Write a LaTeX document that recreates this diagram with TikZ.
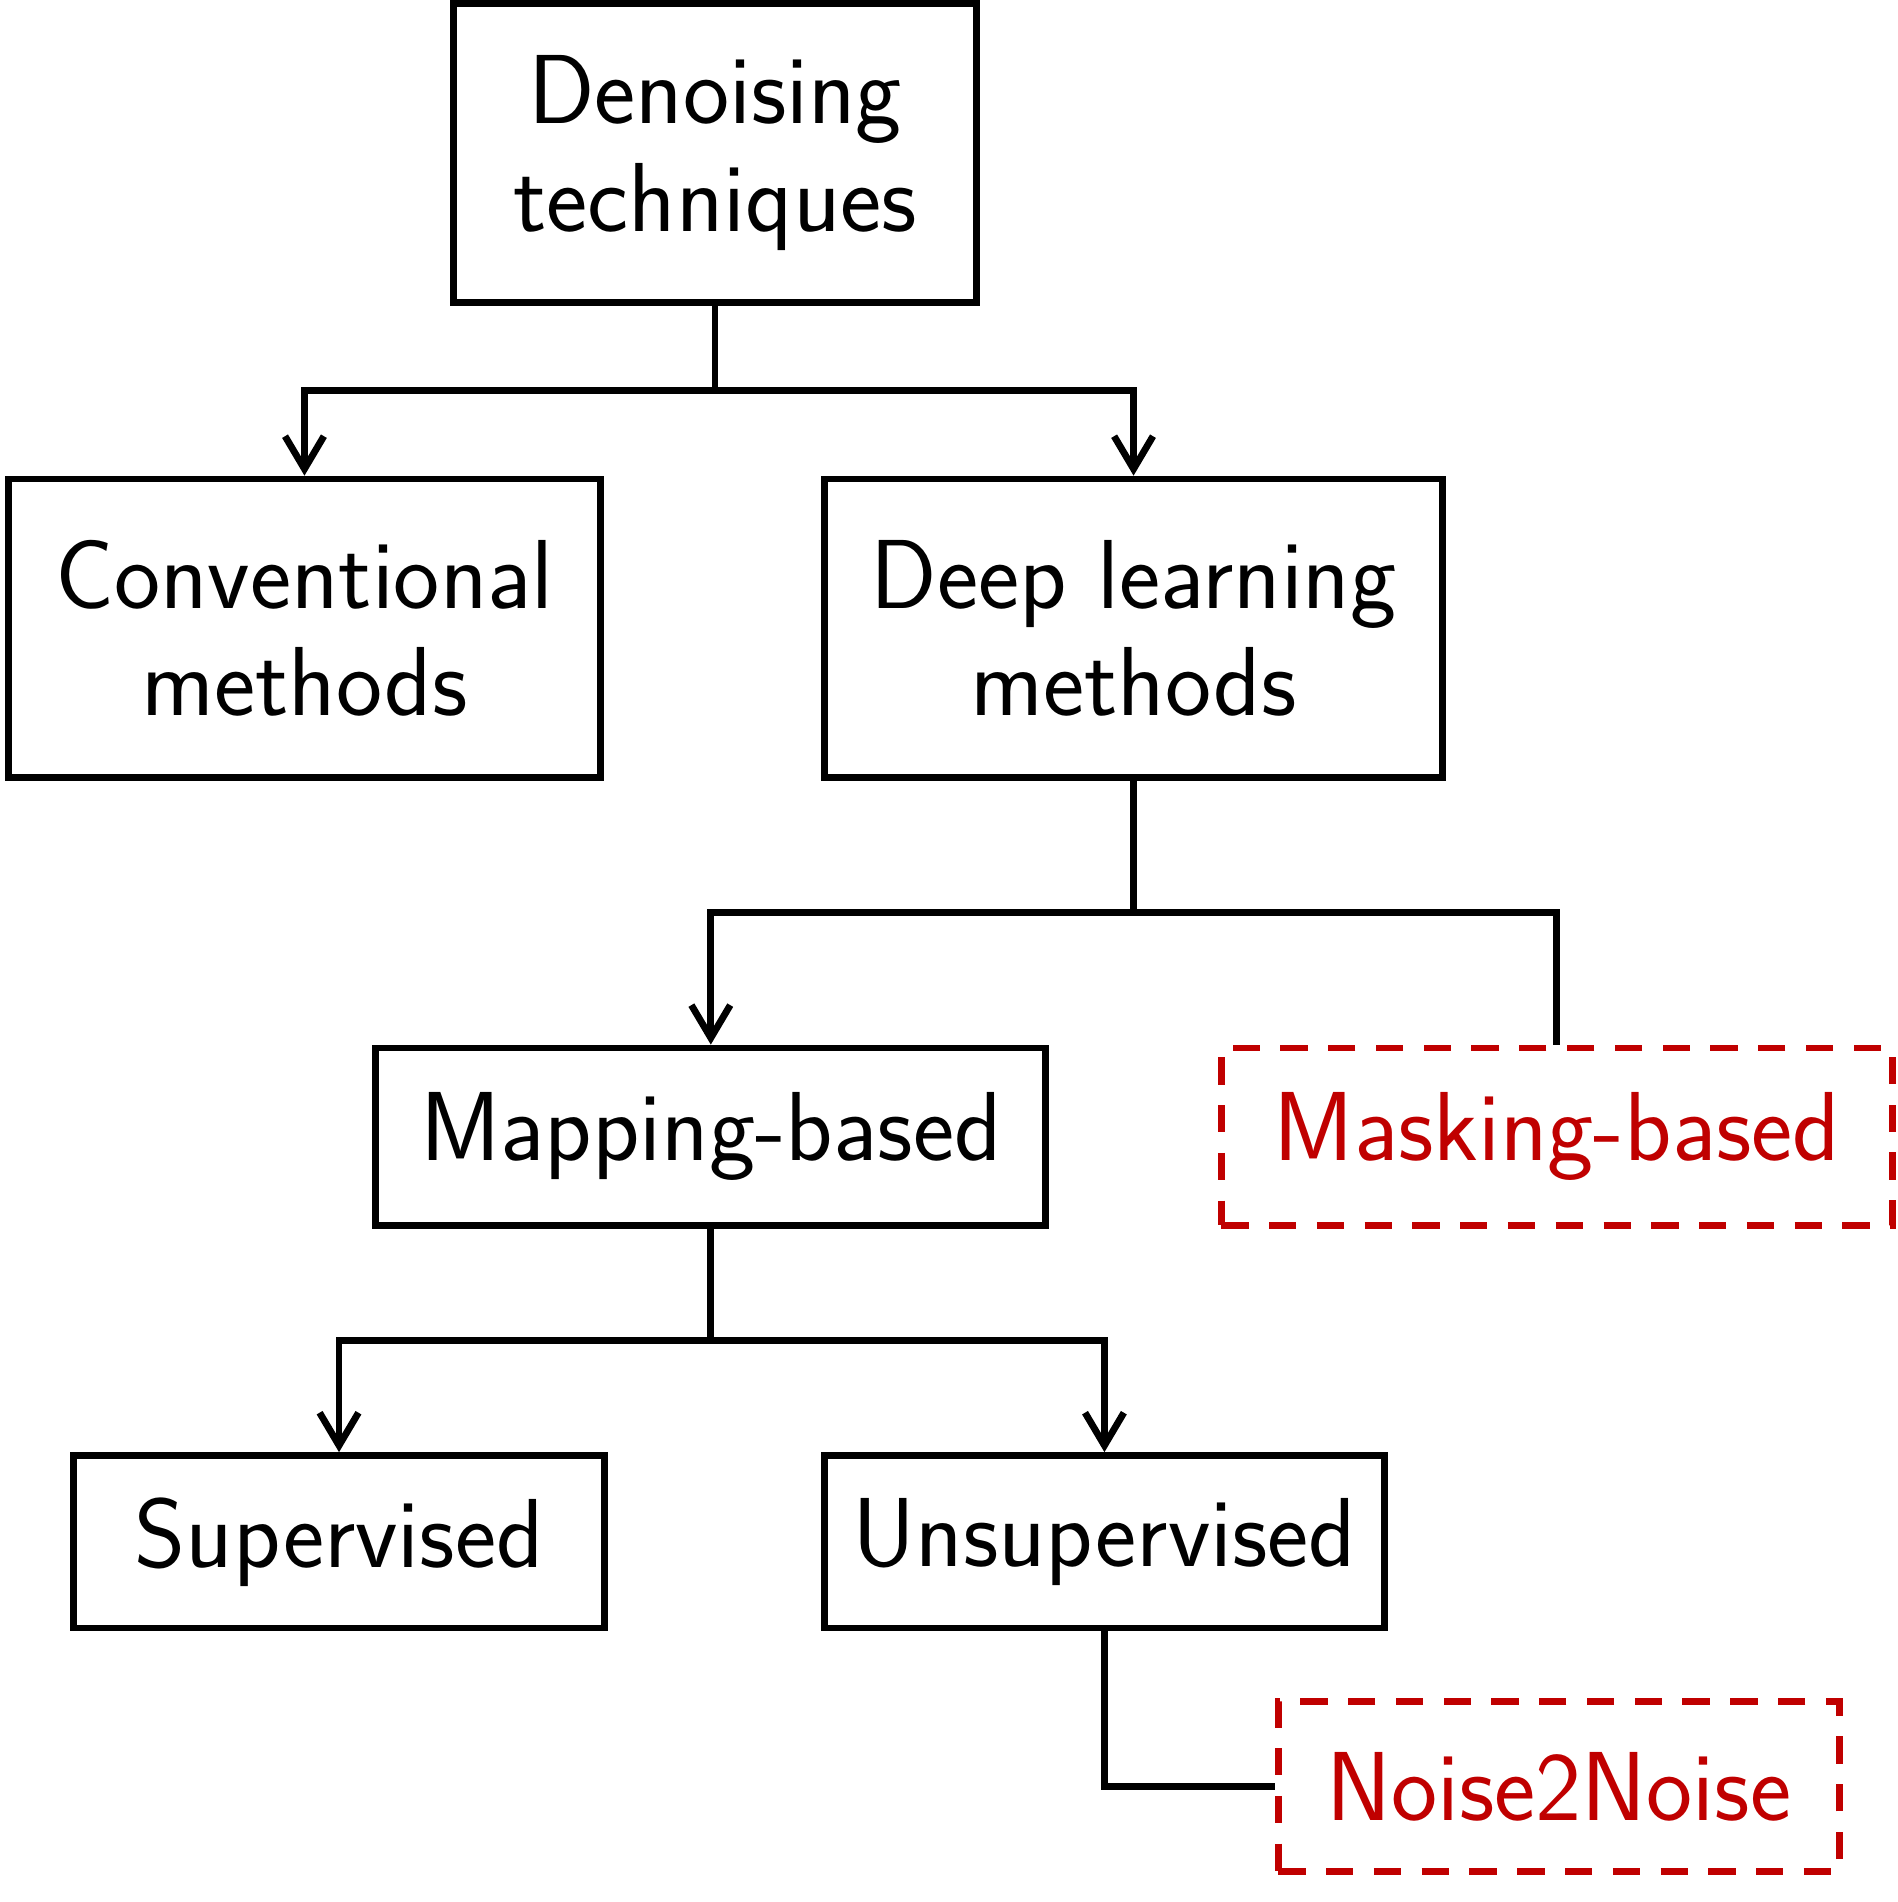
\documentclass[tikz,border=0pt]{standalone}
\usepackage{fontspec}
\usetikzlibrary{arrows.meta}
\definecolor{maskred}{RGB}{192,0,0}
\tikzset{%
  every block/.style={
    rectangle,
    draw,
    line width=1.6pt,
    align=center,
    inner sep=0pt,
    font=\sffamily\fontsize{23}{25.2}\selectfont
  },
  block new/.style={
    draw=maskred,
    text=maskred,
    dash pattern=on 6.4pt off 4.8pt
  }
 }

\begin{document}
\begin{tikzpicture}[x=0.01cm, y=-0.01cm, line width=1.6pt, >={Straight Barb[length=2.7mm,width=3.2mm]}]

\useasboundingbox (0,0) rectangle (1564,1568);

\node [every block, minimum width=4.31cm, minimum height=2.46cm] (denoising) at (589.5,126) {Denoising\\techniques};

\node [every block, minimum width=4.88cm, minimum height=2.46cm] (conventional) at (251,518) {Conventional\\methods};
\node [every block, minimum width=5.09cm, minimum height=2.46cm] (deep) at (934.5,518) {Deep learning\\methods};

\node [every block, minimum width=5.52cm, minimum height=1.46cm] (mapping) at (586,937) {Mapping-based};
\node [every block, block new, minimum width=5.53cm, minimum height=1.46cm] (masking) at (1283.5,937) {Masking-based};

\node [every block, minimum width=4.37cm, minimum height=1.42cm] (supervised) at (279.5,1271) {Supervised};
\node [every block, minimum width=4.61cm, minimum height=1.42cm] (unsupervised) at (910.5,1271) {Unsupervised};

\node [every block, block new, minimum width=4.62cm, minimum height=1.40cm] (noise2noise) at (1285,1473) {Noise2Noise};

% branch points
\coordinate (denoising-split) at (589.5,322);
\coordinate (deep-split) at (934.5,752);
\coordinate (mapping-split) at (586,1105);

\draw (denoising) -- (denoising-split);
\draw (deep) -- (deep-split);
\draw (mapping) -- (mapping-split);

\foreach \s/\t in {denoising-split/conventional, denoising-split/deep,
                   deep-split/mapping, mapping-split/supervised, mapping-split/unsupervised}
  \draw [->] (\s) -| (\t);

\draw (deep-split) -| (masking);
\draw (unsupervised) |- (noise2noise);

\end{tikzpicture}
\end{document}
